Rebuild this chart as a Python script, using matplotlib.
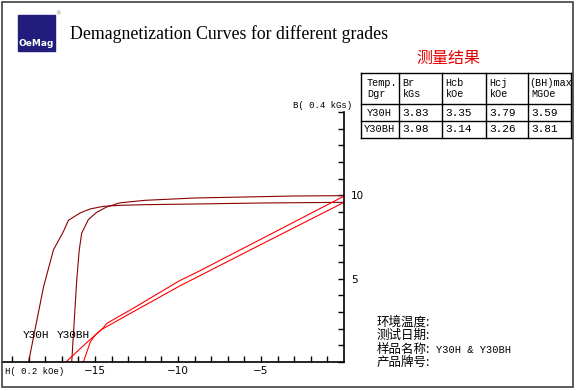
import numpy as np
import matplotlib
matplotlib.use("Agg")
import matplotlib.pyplot as plt
from matplotlib.ticker import MultipleLocator, FixedLocator
from matplotlib.patches import Rectangle

# demagnetization curves, H in 0.2 kOe units, B/J in 0.4 kGs units
y30h_j_h = [0, -5, -9, -12, -13.5, -14.5, -15.3, -15.9, -16.6, -16.9, -17.5, -18.1, -18.7, -19.0]
y30h_j = [9.58, 9.54, 9.48, 9.44, 9.4, 9.34, 9.18, 8.94, 8.5, 7.83, 6.73, 4.5, 1.5, 0]
y30bh_j_h = [0, -3, -6, -9, -12, -13.5, -14.3, -14.9, -15.4, -15.8, -15.95, -16.1, -16.4]
y30bh_j = [9.98, 9.96, 9.9, 9.84, 9.7, 9.55, 9.3, 8.98, 8.54, 7.73, 6.7, 4.9, 0]
y30h_b_h = [0, -5, -9.9, -12.9, -14.6, -15.46, -16.75]
y30h_b = [9.58, 7.05, 4.56, 2.9, 1.95, 1.2, 0]
y30bh_b_h = [0, -5, -8.67, -9.9, -12.7, -14.3, -14.5, -15.0, -15.28, -15.7]
y30bh_b = [9.95, 7.37, 5.48, 4.88, 3.22, 2.31, 2.05, 1.6, 1.2, 0]

# results table
grades = ["Y30H", "Y30BH"]
br = ["3.83", "3.98"]
hcb = ["3.35", "3.14"]
hcj = ["3.79", "3.26"]
bhmax = ["3.59", "3.81"]
head1 = ["Temp.", "Br", "Hcb", "Hcj", "(BH)max"]
head2 = ["Dgr", "kGs", "kOe", "kOe", "MGOe"]

W, H = 576, 391
fig = plt.figure(figsize=(W / 100, H / 100), dpi=100)
fig.patch.set_facecolor("white")

mono = "Liberation Mono"
cjk = ["Noto Sans CJK SC", "DejaVu Sans"]

# main plot axes
ax = fig.add_axes([2 / W, 1 - 362 / H, 342 / W, 250 / H])
ax.set_facecolor("none")
ax.plot(y30h_j_h, y30h_j, color="#8b0000", lw=0.8)
ax.plot(y30bh_j_h, y30bh_j, color="#8b0000", lw=0.8)
ax.plot(y30h_b_h, y30h_b, color="#ff0000", lw=0.8)
ax.plot(y30bh_b_h, y30bh_b, color="#ff0000", lw=0.8)
ax.set_xlim(-20.6, 0)
ax.set_ylim(0, 15)
for s in ["top", "left"]:
    ax.spines[s].set_visible(False)
ax.spines["right"].set_linewidth(1.2)
ax.spines["bottom"].set_linewidth(1.2)
ax.yaxis.tick_right()
ax.yaxis.set_major_locator(FixedLocator([5, 10, 15]))
ax.yaxis.set_major_formatter(plt.FuncFormatter(lambda v, p: "" if v == 15 else "%d" % v))
ax.yaxis.set_minor_locator(MultipleLocator(1))
ax.xaxis.set_major_locator(FixedLocator([-15, -10, -5]))
ax.xaxis.set_minor_locator(FixedLocator(np.arange(-20, 0)))
ax.tick_params(axis="both", which="both", direction="in", length=4, width=1, labelsize=7.5)
ax.tick_params(axis="y", pad=5)
ax.tick_params(axis="x", pad=3)
ax.text(-19.35, 1.6, "Y30H", fontsize=8, family=mono, va="center")
ax.text(-17.3, 1.6, "Y30BH", fontsize=8, family=mono, va="center")

# overlay in pixel coordinates for the decorations
ov = fig.add_axes([0, 0, 1, 1])
ov.set_xlim(0, W)
ov.set_ylim(H, 0)
ov.axis("off")
ov.patch.set_alpha(0)

ov.add_patch(Rectangle((2, 2), 571, 385, fill=False, ec="#404040", lw=1.2))
ov.add_patch(Rectangle((18, 15), 37, 36, color="#221c7c"))
ov.text(36.5, 44, "OeMag", color="white", fontsize=6.5, fontweight="bold",
        ha="center", va="center")
ov.text(58, 14, "®", color="gray", fontsize=4, ha="center", va="center")
ov.text(70, 34, "Demagnetization Curves for different grades", family="Liberation Serif",
        fontsize=12.8, va="center")

ov.text(323, 105, "B( 0.4 kGs)", family=mono, fontsize=6.5, ha="center", va="center")
ov.text(5, 371, "H( 0.2 kOe)", family=mono, fontsize=6.5, va="center")

ov.text(448, 58, "测量结果", family=cjk, color="#e00000", fontsize=11.5,
        ha="center", va="center")

# table
cols = [361, 398.5, 441.5, 485.5, 527.5, 571]
rows = [73, 104, 121, 138]
for x in cols:
    ov.plot([x, x], [rows[0], rows[-1]], color="black", lw=1.0)
for y in rows:
    ov.plot([cols[0], cols[-1]], [y, y], color="black", lw=1.0)
for i in range(5):
    x0 = cols[i] + (6 if i == 0 else (1.5 if i == 4 else 4))
    ov.text(x0, 82.5, head1[i], family=mono, fontsize=7.3, va="center")
    ov.text(x0 + (2 if i == 4 else 0), 94, head2[i], family=mono, fontsize=7.3, va="center")
for r in range(len(grades)):
    yc = (rows[r + 1] + rows[r + 2]) / 2
    ov.text((cols[0] + cols[1]) / 2, yc, grades[r], family=mono, fontsize=7.5,
            ha="center", va="center")
    for i, vals in enumerate([br, hcb, hcj, bhmax]):
        ov.text(cols[i + 1] + 4, yc, vals[r], family=mono, fontsize=8, va="center")

# info text bottom right
info = ["环境温度:", "测试日期:", "样品名称:", "产品牌号:"]
info_y = [322, 335, 350, 362]
for t, y in zip(info, info_y):
    ov.text(377, y, t, family=cjk, fontsize=9, va="center")
ov.text(436, 350, "Y30H & Y30BH", family=mono, fontsize=7.5, va="center")

fig.savefig("out.png", dpi=100)
